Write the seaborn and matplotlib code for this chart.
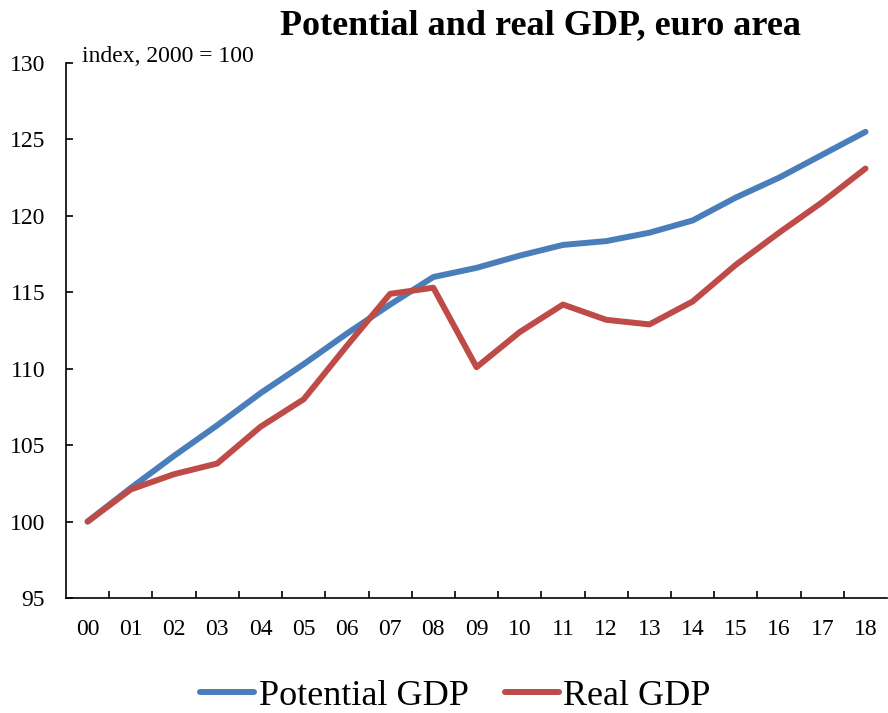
import matplotlib
matplotlib.use("Agg")
import matplotlib.pyplot as plt
import seaborn as sns
import pandas as pd

years = ["00", "01", "02", "03", "04", "05", "06", "07", "08", "09",
         "10", "11", "12", "13", "14", "15", "16", "17", "18"]
potential_gdp = [100.0, 102.2, 104.3, 106.3, 108.4, 110.3, 112.3, 114.2, 116.0, 116.6,
                 117.4, 118.1, 118.35, 118.9, 119.7, 121.2, 122.5, 124.0, 125.5]
real_gdp = [100.0, 102.1, 103.1, 103.8, 106.2, 108.0, 111.5, 114.9, 115.3, 110.1,
            112.4, 114.2, 113.2, 112.9, 114.4, 116.8, 118.9, 120.9, 123.1]
series_names = ["Potential GDP", "Real GDP"]
colors = ["#4A7EBB", "#BE4B48"]

df = pd.DataFrame({
    "pos": list(range(len(years))) * 2,
    "value": potential_gdp + real_gdp,
    "series": [series_names[0]] * len(years) + [series_names[1]] * len(years),
})

sns.set_style("white", {"xtick.bottom": True, "ytick.left": True})
plt.rcParams["font.family"] = ["Liberation Serif", "DejaVu Serif"]
plt.rcParams["text.color"] = "black"
plt.rcParams["xtick.color"] = "black"
plt.rcParams["ytick.color"] = "black"

fig = plt.figure(figsize=(8.88, 7.13), dpi=100)
ax = fig.add_axes([0.0743, 0.1613, 0.9247, 0.7503])

sns.lineplot(data=df, x="pos", y="value", hue="series", palette=colors,
             linewidth=4.3, ax=ax, legend=False, solid_capstyle="round")

ax.set_xlim(-0.5, len(years) - 0.5)
ax.set_ylim(95, 130)
ax.set_yticks(range(95, 131, 5))
ax.set_yticklabels([str(v) for v in range(95, 131, 5)], fontsize=17)

# category labels at centres, tick marks between categories
ax.set_xticks(range(len(years)))
ax.set_xticklabels(years, fontsize=17)
ax.tick_params(axis="x", which="major", length=0, pad=15)
ax.set_xticks([i + 0.5 for i in range(len(years) - 1)], minor=True)
ax.tick_params(axis="x", which="minor", bottom=True, direction="in", length=5,
               width=1.2, color="black")
ax.tick_params(axis="y", left=True, direction="in", length=5, width=1.2,
               color="black", pad=15)

for s in ["top", "right"]:
    ax.spines[s].set_visible(False)
for s in ["left", "bottom"]:
    ax.spines[s].set_color("black")
    ax.spines[s].set_linewidth(1.2)

ax.set_xlabel("")
ax.set_ylabel("")

fig.text(0.609, 0.964, "Potential and real GDP, euro area", ha="center", va="center",
         fontsize=26, fontweight="bold")
fig.text(0.092, 0.921, "index, 2000 = 100", ha="left", va="center", fontsize=17)

handles = [plt.Line2D([], [], color=c, linewidth=4.3, solid_capstyle="round") for c in colors]
fig.legend(handles, series_names, loc="center", bbox_to_anchor=(0.513, 0.024), ncol=2,
           frameon=False, fontsize=26, handlelength=1.5, handletextpad=0.12,
           columnspacing=1.0)

fig.savefig("out.png", dpi=100)
